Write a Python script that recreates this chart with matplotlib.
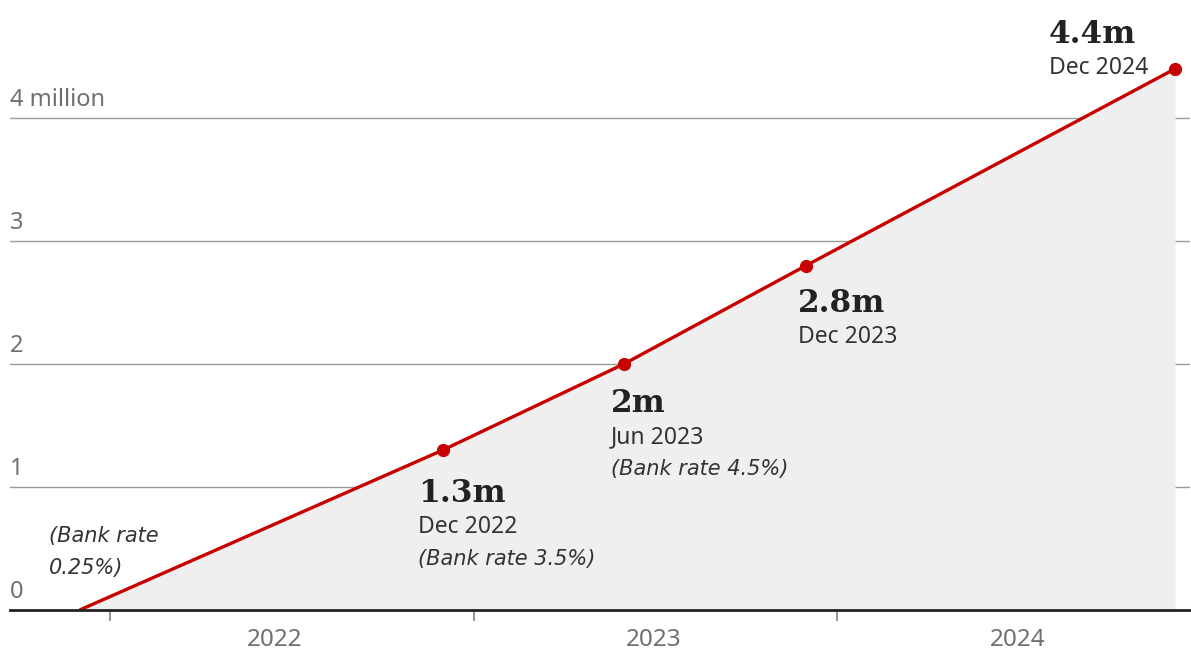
import numpy as np
import pandas as pd
import matplotlib
matplotlib.use("Agg")
import matplotlib.pyplot as plt
import matplotlib.dates as mdates

# data: households, millions
dates = pd.to_datetime(["2021-12-01", "2022-12-01", "2023-06-01", "2023-12-01", "2024-12-06"])
values = [0.0, 1.3, 2.0, 2.8, 4.4]
point_labels = ["", "1.3m", "2m", "2.8m", "4.4m"]
point_dates = ["", "Dec 2022", "Jun 2023", "Dec 2023", "Dec 2024"]
point_notes = ["", "(Bank rate 3.5%)", "(Bank rate 4.5%)", "", ""]

yticks = [0, 1, 2, 3, 4]
ytick_labels = ["0", "1", "2", "3", "4 million"]
year_ticks = pd.to_datetime(["2022-01-01", "2023-01-01", "2024-01-01"])
year_labels = ["2022", "2023", "2024"]
year_label_pos = pd.to_datetime(["2022-06-15", "2023-07-01", "2024-07-01"])

red = "#c70000"
fill = "#efefef"
grid = "#999999"
txt = "#333333"
grey = "#707070"
sans = ["Noto Sans", "DejaVu Sans"]
ital = ["DejaVu Sans"]
serif = ["DejaVu Serif"]

x = mdates.date2num(dates)

fig = plt.figure(figsize=(11.91, 6.52), dpi=100)
W, H = 1191, 652
ax = fig.add_axes([10 / W, (H - 610) / H, 1180 / W, 610 / H])

ax.set_xlim(mdates.date2num(pd.Timestamp("2021-09-22")), mdates.date2num(pd.Timestamp("2024-12-21")))
ax.set_ylim(0, 610 / 123)

for v in yticks[1:]:
    ax.axhline(v, color=grid, lw=1.0, zorder=1)

ax.fill_between(x, values, 0, color=fill, lw=0, zorder=2)
ax.plot(x, values, color=red, lw=2.4, zorder=3, solid_capstyle="butt")
ax.plot(x[1:], values[1:], "o", color=red, ms=8.5, zorder=4)

# y labels sit above the grid lines
for v, lab in zip(yticks, ytick_labels):
    ax.annotate(lab, (0, v), xycoords=ax.get_yaxis_transform(),
                xytext=(0, 12), textcoords="offset pixels",
                ha="left", va="baseline", fontsize=17, color=grey, family=sans)

# annotations
offsets = [None, (-25, -52), (-13, -48), (-8, -46), (-126, 26)]
for d, v, lab, dl, note, off in zip(x, values, point_labels, point_dates, point_notes, offsets):
    if off is None:
        continue
    ax.annotate(lab, (d, v), xytext=off, textcoords="offset pixels",
                ha="left", va="baseline", fontsize=22.5, fontweight="bold",
                color="#222222", family=serif, zorder=5)
    ax.annotate(dl, (d, v), xytext=(off[0], off[1] - 25), textcoords="offset pixels",
                ha="left", va="center", fontsize=16.5, color=txt, family=sans, zorder=5)
    if note:
        ax.annotate(note, (d, v), xytext=(off[0], off[1] - 57), textcoords="offset pixels",
                    ha="left", va="center", fontsize=15, style="italic",
                    color=txt, family=ital, zorder=5)

ax.annotate("(Bank rate\n0.25%)", (x[0], values[0]), xytext=(-31, 58),
            textcoords="offset pixels", ha="left", va="center", fontsize=15,
            style="italic", color=txt, family=ital, linespacing=1.75)

# x axis
for s in ["top", "right", "left"]:
    ax.spines[s].set_visible(False)
ax.spines["bottom"].set_color("#222222")
ax.spines["bottom"].set_linewidth(2)
ax.spines["bottom"].set_zorder(6)
ax.set_yticks([])
ax.set_xticks(mdates.date2num(year_ticks))
ax.set_xticklabels([])
ax.tick_params(axis="x", length=8, width=1.5, color="#999999", direction="out")
for d, lab in zip(mdates.date2num(year_label_pos), year_labels):
    ax.annotate(lab, (d, 0), xycoords=ax.get_xaxis_transform(),
                xytext=(0, -30), textcoords="offset pixels",
                ha="center", va="center", fontsize=17.5, color=grey, family=sans)

fig.savefig("out.png", dpi=100)
